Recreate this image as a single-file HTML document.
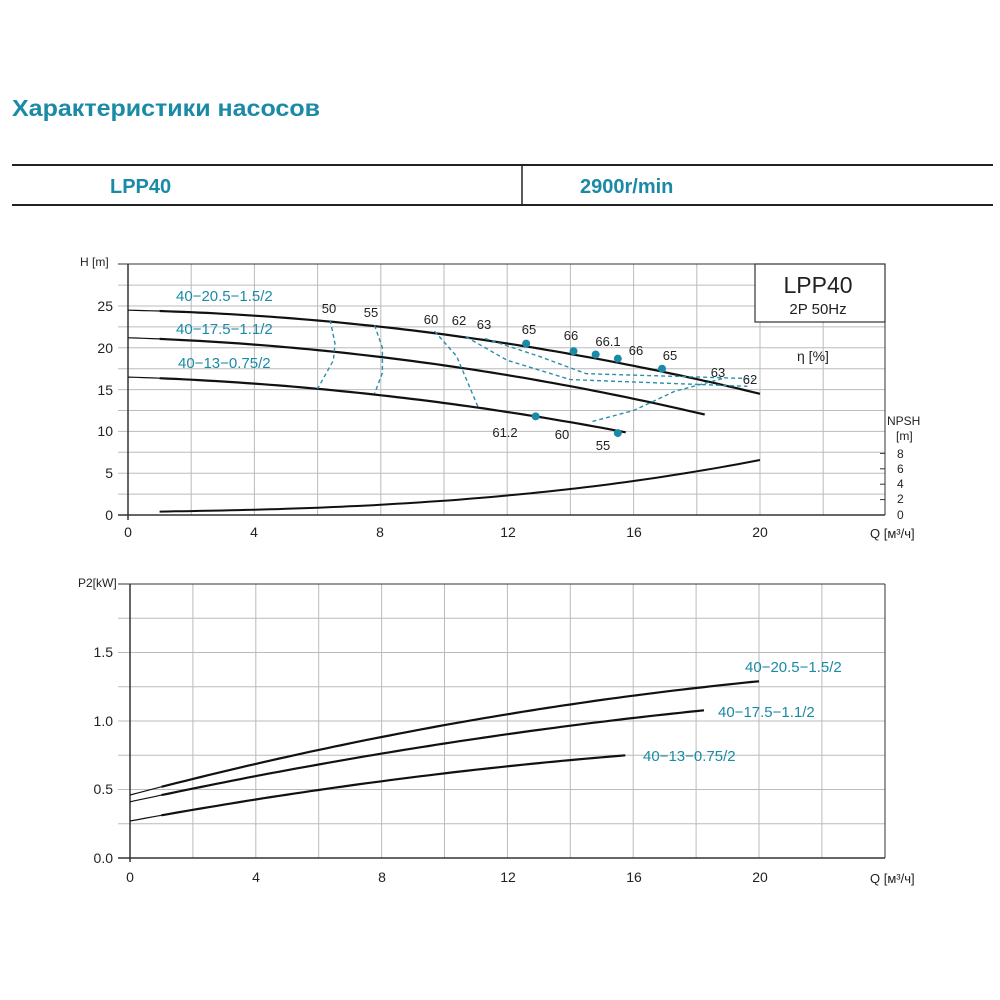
<!DOCTYPE html>
<html><head><meta charset="utf-8"><style>
body{margin:0;background:#fff;width:1000px;height:1000px;overflow:hidden;font-family:"Liberation Sans",sans-serif}
svg{position:absolute;left:0;top:0}
.t{fill:#1a8aa6}
</style></head><body>
<svg width="1000" height="1000" viewBox="0 0 1000 1000" font-family="Liberation Sans, sans-serif">
<text x="12" y="116" font-size="23" font-weight="bold" class="t" textLength="308" lengthAdjust="spacingAndGlyphs">Характеристики насосов</text>
<line x1="12" y1="165" x2="993" y2="165" stroke="#222" stroke-width="2"/>
<line x1="12" y1="205" x2="993" y2="205" stroke="#222" stroke-width="2"/>
<line x1="522" y1="165" x2="522" y2="205" stroke="#222" stroke-width="1.5"/>
<text x="110" y="193" font-size="20" font-weight="bold" class="t">LPP40</text>
<text x="580" y="193" font-size="20" font-weight="bold" class="t">2900r/min</text>

<g id="g1" stroke="#bbb" stroke-width="1"></g>
<g id="g2" stroke="#bbb" stroke-width="1"></g>
<g id="curves" fill="none" stroke="#111" stroke-width="2.2"></g>
<g id="dash" fill="none" stroke="#2a8fa8" stroke-width="1.4" stroke-dasharray="4,3"></g>
<g id="dots" fill="#1a8aa6"></g>

<g font-size="14" fill="#222" text-anchor="end">
<text x="113" y="520">0</text><text x="113" y="478">5</text><text x="113" y="436">10</text><text x="113" y="395">15</text><text x="113" y="353">20</text><text x="113" y="311">25</text>
</g>
<text x="80" y="266" font-size="12" fill="#222">H [m]</text>
<g font-size="14" fill="#222" text-anchor="middle">
<text x="128" y="537">0</text><text x="254" y="537">4</text><text x="380" y="537">8</text><text x="508" y="537">12</text><text x="634" y="537">16</text><text x="760" y="537">20</text>
</g>
<text x="870" y="538" font-size="13" fill="#222">Q [м³/ч]</text>
<text x="887" y="425" font-size="12" fill="#222">NPSH</text>
<text x="896" y="440" font-size="12" fill="#222">[m]</text>
<g font-size="12" fill="#222">
<text x="897" y="458">8</text><text x="897" y="473">6</text><text x="897" y="488">4</text><text x="897" y="503">2</text><text x="897" y="519">0</text>
</g>
<rect x="755" y="264" width="130" height="58" fill="#fff" stroke="#333" stroke-width="1.2"/>
<text x="818" y="293" font-size="23" fill="#222" text-anchor="middle">LPP40</text>
<text x="818" y="314" font-size="15" fill="#222" text-anchor="middle">2P  50Hz</text>
<text x="797" y="361" font-size="14" fill="#222">η [%]</text>
<g font-size="15" class="t">
<text x="176" y="301">40−20.5−1.5/2</text>
<text x="176" y="334">40−17.5−1.1/2</text>
<text x="178" y="368">40−13−0.75/2</text>
</g>
<g font-size="13" fill="#222" text-anchor="middle">
<text x="329" y="313">50</text><text x="371" y="317">55</text><text x="431" y="324">60</text><text x="459" y="325">62</text><text x="484" y="329">63</text>
<text x="529" y="334">65</text><text x="571" y="340">66</text><text x="608" y="346">66.1</text><text x="636" y="355">66</text><text x="670" y="360">65</text><text x="718" y="377">63</text><text x="750" y="384">62</text>
<text x="505" y="437">61.2</text><text x="562" y="439">60</text><text x="603" y="450">55</text>
</g>

<g font-size="14" fill="#222" text-anchor="end">
<text x="113" y="863">0.0</text><text x="113" y="794">0.5</text><text x="113" y="726">1.0</text><text x="113" y="657">1.5</text>
</g>
<text x="78" y="587" font-size="12" fill="#222">P2[kW]</text>
<g font-size="14" fill="#222" text-anchor="middle">
<text x="130" y="882">0</text><text x="256" y="882">4</text><text x="382" y="882">8</text><text x="508" y="882">12</text><text x="634" y="882">16</text><text x="760" y="882">20</text>
</g>
<text x="870" y="883" font-size="13" fill="#222">Q [м³/ч]</text>
<g font-size="15" class="t">
<text x="745" y="672">40−20.5−1.5/2</text>
<text x="718" y="717">40−17.5−1.1/2</text>
<text x="643" y="761">40−13−0.75/2</text>
</g>
</svg>
<script>
var NS="http://www.w3.org/2000/svg";
function el(p,t,a){var e=document.createElementNS(NS,t);for(var k in a)e.setAttribute(k,a[k]);document.getElementById(p).appendChild(e);return e;}
function X(q){return 128+31.6*q;} function Y(h){return 515-8.36*h;}
for(var q=2;q<=22;q+=2) el("g1","line",{x1:X(q),y1:264,x2:X(q),y2:515});
for(var h=2.5;h<30;h+=2.5) el("g1","line",{x1:118,y1:Y(h),x2:885,y2:Y(h)});
el("g1","line",{x1:118,y1:264,x2:885,y2:264,stroke:"#333"});
el("g1","line",{x1:118,y1:515,x2:885,y2:515,stroke:"#333","stroke-width":1.5});
el("g1","line",{x1:128,y1:264,x2:128,y2:520,stroke:"#333","stroke-width":1.5});
el("g1","line",{x1:885,y1:264,x2:885,y2:515,stroke:"#333"});
for(var i=0;i<=4;i++) el("g1","line",{x1:880,y1:515-15.4*i,x2:885,y2:515-15.4*i,stroke:"#333"});
function path(g,pts,fx,fy,w){var d="";pts.forEach(function(p,i){d+=(i?"L":"M")+fx(p[0]).toFixed(1)+","+fy(p[1]).toFixed(1);});el(g,"path",{d:d,"stroke-width":w||2.2});}
function fn(f,a,b){var o=[];for(var q=a;q<=b+1e-6;q+=0.25)o.push([q,f(q)]);return o;}
function id(v){return v;}
function two(f,b,fx,fy){path("curves",fn(f,0,1),fx,fy,1.2);path("curves",fn(f,1,b),fx,fy,2.2);}
two(function(q){return 24.5-0.08*q-0.021*q*q;},20,X,Y);
two(function(q){return 21.2-0.12*q-0.021*q*q;},18.3,X,Y);
two(function(q){return 16.5-0.12*q-0.019*q*q;},15.9,X,Y);
var np=[];for(var q=1;q<=20;q+=0.25){np.push([X(q),512-0.4*q-Math.pow(q/20,2.6)*44]);}
path("curves",np,id,id,2);
var dd=[
 [[6.4,23.3],[6.55,20.5],[6.5,18.5],[6,15.1]],
 [[7.8,22.7],[8.05,20],[8.05,17],[7.8,14.5]],
 [[9.7,22],[10.4,19],[11.1,12.7]],
 [[10.7,21.3],[12,18.5],[14,16.2],[19.6,15.4]],
 [[11.3,21.1],[13,19],[14.5,16.9],[19.8,16.3]],
 [[14.7,11.2],[16,12.5],[17.3,14.8],[18.8,16.3]]
];
dd.forEach(function(p){path("dash",p,X,Y,1.4);});
[[12.6,20.5],[14.1,19.6],[14.8,19.2],[15.5,18.7],[16.9,17.5],[12.9,11.8],[15.5,9.8]].forEach(function(p){el("dots","circle",{cx:X(p[0]),cy:Y(p[1]),r:4});});
function X2(q){return 130+31.45*q;} function Y2(p){return 858-137*p;}
for(var q=2;q<=22;q+=2) el("g2","line",{x1:X2(q),y1:584,x2:X2(q),y2:858});
for(var p=0.25;p<2;p+=0.25) el("g2","line",{x1:118,y1:Y2(p),x2:885,y2:Y2(p)});
el("g2","line",{x1:118,y1:584,x2:885,y2:584,stroke:"#333"});
el("g2","line",{x1:118,y1:858,x2:885,y2:858,stroke:"#333","stroke-width":1.5});
el("g2","line",{x1:130,y1:584,x2:130,y2:862,stroke:"#333","stroke-width":1.5});
el("g2","line",{x1:885,y1:584,x2:885,y2:858,stroke:"#333"});
two(function(q){return 0.46+0.0605*q-0.00095*q*q;},20,X2,Y2);
two(function(q){return 0.41+0.0498*q-0.000723*q*q;},18.3,X2,Y2);
two(function(q){return 0.27+0.0423*q-0.000753*q*q;},15.8,X2,Y2);
</script>
</body></html>
